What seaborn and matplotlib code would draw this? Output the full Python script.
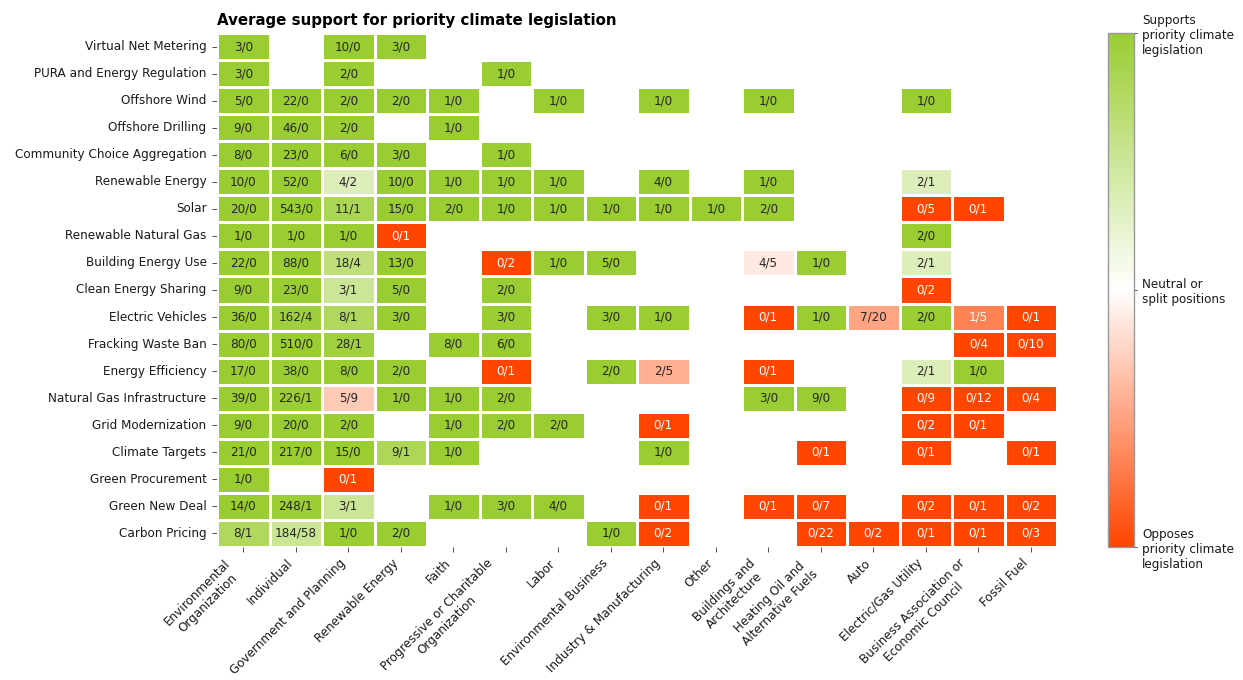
import numpy as np
import pandas as pd
import matplotlib
matplotlib.use("Agg")
import matplotlib.pyplot as plt
import seaborn as sns
from matplotlib.colors import LinearSegmentedColormap

# Legislation topics (rows) and stakeholder groups (columns)
topics = ["Virtual Net Metering", "PURA and Energy Regulation", "Offshore Wind",
          "Offshore Drilling", "Community Choice Aggregation", "Renewable Energy",
          "Solar", "Renewable Natural Gas", "Building Energy Use", "Clean Energy Sharing",
          "Electric Vehicles", "Fracking Waste Ban", "Energy Efficiency",
          "Natural Gas Infrastructure", "Grid Modernization", "Climate Targets",
          "Green Procurement", "Green New Deal", "Carbon Pricing"]

groups = ["Environmental\nOrganization", "Individual", "Government and Planning",
          "Renewable Energy", "Faith", "Progressive or Charitable\nOrganization",
          "Labor", "Environmental Business", "Industry & Manufacturing", "Other",
          "Buildings and\nArchitecture", "Heating Oil and\nAlternative Fuels", "Auto",
          "Electric/Gas Utility", "Business Association or\nEconomic Council", "Fossil Fuel"]

# support/oppose counts per cell, "" where the group took no position
counts = [
    ["3/0", "", "10/0", "3/0", "", "", "", "", "", "", "", "", "", "", "", ""],
    ["3/0", "", "2/0", "", "", "1/0", "", "", "", "", "", "", "", "", "", ""],
    ["5/0", "22/0", "2/0", "2/0", "1/0", "", "1/0", "", "1/0", "", "1/0", "", "", "1/0", "", ""],
    ["9/0", "46/0", "2/0", "", "1/0", "", "", "", "", "", "", "", "", "", "", ""],
    ["8/0", "23/0", "6/0", "3/0", "", "1/0", "", "", "", "", "", "", "", "", "", ""],
    ["10/0", "52/0", "4/2", "10/0", "1/0", "1/0", "1/0", "", "4/0", "", "1/0", "", "", "2/1", "", ""],
    ["20/0", "543/0", "11/1", "15/0", "2/0", "1/0", "1/0", "1/0", "1/0", "1/0", "2/0", "", "", "0/5", "0/1", ""],
    ["1/0", "1/0", "1/0", "0/1", "", "", "", "", "", "", "", "", "", "2/0", "", ""],
    ["22/0", "88/0", "18/4", "13/0", "", "0/2", "1/0", "5/0", "", "", "4/5", "1/0", "", "2/1", "", ""],
    ["9/0", "23/0", "3/1", "5/0", "", "2/0", "", "", "", "", "", "", "", "0/2", "", ""],
    ["36/0", "162/4", "8/1", "3/0", "", "3/0", "", "3/0", "1/0", "", "0/1", "1/0", "7/20", "2/0", "1/5", "0/1"],
    ["80/0", "510/0", "28/1", "", "8/0", "6/0", "", "", "", "", "", "", "", "", "0/4", "0/10"],
    ["17/0", "38/0", "8/0", "2/0", "", "0/1", "", "2/0", "2/5", "", "0/1", "", "", "2/1", "1/0", ""],
    ["39/0", "226/1", "5/9", "1/0", "1/0", "2/0", "", "", "", "", "3/0", "9/0", "", "0/9", "0/12", "0/4"],
    ["9/0", "20/0", "2/0", "", "1/0", "2/0", "2/0", "", "0/1", "", "", "", "", "0/2", "0/1", ""],
    ["21/0", "217/0", "15/0", "9/1", "1/0", "", "", "", "1/0", "", "", "0/1", "", "0/1", "", "0/1"],
    ["1/0", "", "0/1", "", "", "", "", "", "", "", "", "", "", "", "", ""],
    ["14/0", "248/1", "3/1", "", "1/0", "3/0", "4/0", "", "0/1", "", "0/1", "0/7", "", "0/2", "0/1", "0/2"],
    ["8/1", "184/58", "1/0", "2/0", "", "", "", "1/0", "0/2", "", "", "0/22", "0/2", "0/1", "0/1", "0/3"],
]

# Net support score: (support - oppose) / total
score = np.full((len(topics), len(groups)), np.nan)
for i, row in enumerate(counts):
    for j, c in enumerate(row):
        if c:
            s, o = map(int, c.split("/"))
            score[i, j] = (s - o) / (s + o)

df = pd.DataFrame(score, index=topics, columns=groups)
annot = pd.DataFrame(counts, index=topics, columns=groups)

cmap = LinearSegmentedColormap.from_list("support", ["orangered", "white", "yellowgreen"])

sns.set_theme(style="white")
plt.rcParams["font.family"] = ["DejaVu Sans"]

fs = 8.64

fig = plt.figure(figsize=(12.43, 6.8), dpi=100)
ax = fig.add_axes([217 / 1243, 1 - 547 / 680, 840 / 1243, 514 / 680])
cax = fig.add_axes([1108 / 1243, 1 - 547 / 680, 26 / 1243, 514 / 680])

sns.heatmap(df, ax=ax, cmap=cmap, vmin=-1, vmax=1, annot=annot, fmt="",
            annot_kws={"fontsize": fs}, linewidths=2, linecolor="white",
            cbar_ax=cax, cbar_kws={"ticks": [-1, 0, 1]})

ax.set_title("Average support for priority climate legislation", loc="left",
             fontsize=10.8, fontweight="bold", pad=6, color="black")
ax.set_xlabel("")
ax.set_ylabel("")
ax.tick_params(axis="both", length=3.5, width=0.6, color="#333333", labelsize=fs,
               labelcolor="#1a1a1a", bottom=True, left=True)
ax.tick_params(axis="y", pad=4)
ax.set_yticklabels(topics, rotation=0)
ax.set_xticklabels(groups, rotation=45, ha="right", multialignment="center")

cbar = ax.collections[0].colorbar
cbar.set_ticklabels(["Opposes\npriority climate\nlegislation",
                     "Neutral or\nsplit positions",
                     "Supports\npriority climate\nlegislation"])
cbar.ax.tick_params(labelsize=fs, length=2.5, width=0.6, color="#333333",
                    labelcolor="#1a1a1a")
cbar.outline.set_visible(True)
cbar.outline.set_edgecolor("#999999")
cbar.outline.set_linewidth(1)

fig.savefig("out.png", dpi=100)
